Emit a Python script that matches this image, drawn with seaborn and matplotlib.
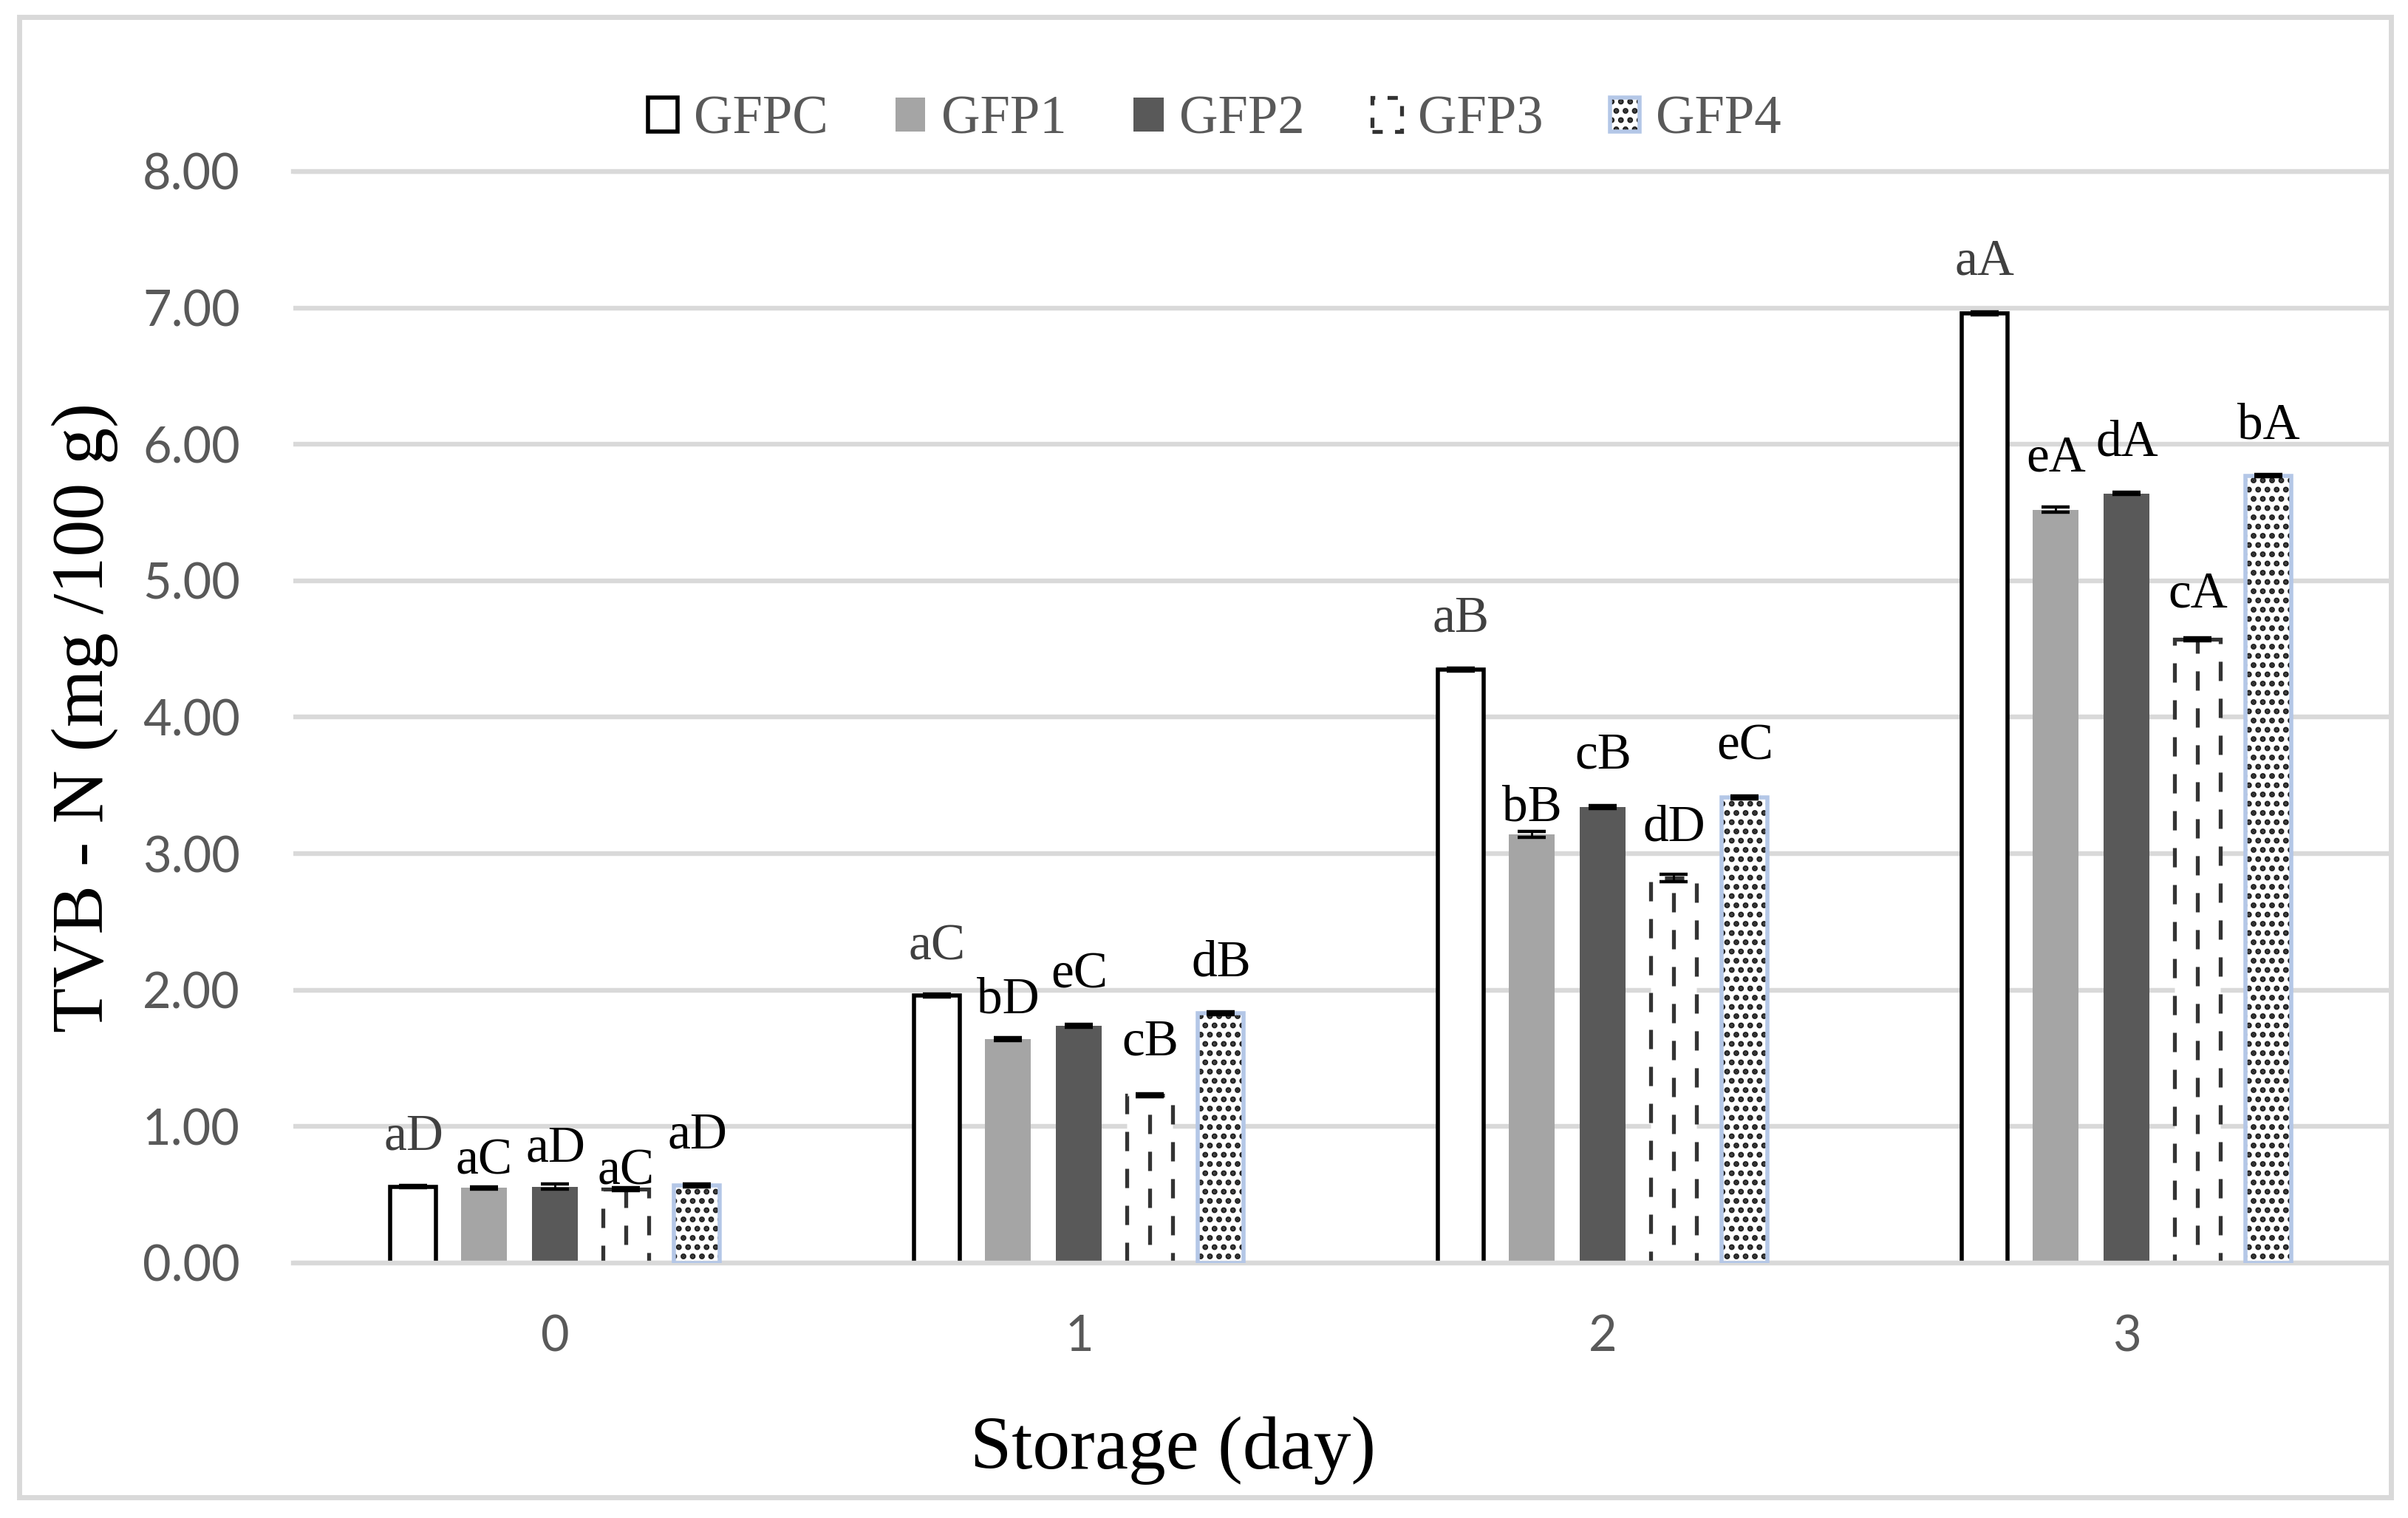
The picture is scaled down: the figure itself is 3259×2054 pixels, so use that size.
import numpy as np
import pandas as pd
import matplotlib.pyplot as plt
import matplotlib.patches as mpatches
import seaborn as sns

# values (TVB-N, mg/100 g)
days = ["0", "1", "2", "3"]
groups = ["GFPC", "GFP1", "GFP2", "GFP3", "GFP4"]

gfpc = [0.56, 1.96, 4.35, 6.96]
gfp1 = [0.55, 1.64, 3.14, 5.52]
gfp2 = [0.56, 1.74, 3.34, 5.64]
gfp3 = [0.54, 1.23, 2.82, 4.57]
gfp4 = [0.57, 1.83, 3.41, 5.77]

gfpc_err = [0.01, 0.01, 0.01, 0.01]
gfp1_err = [0.01, 0.01, 0.023, 0.02]
gfp2_err = [0.02, 0.01, 0.01, 0.01]
gfp3_err = [0.01, 0.01, 0.027, 0.01]
gfp4_err = [0.01, 0.01, 0.01, 0.01]

gfpc_lab = ["aD", "aC", "aB", "aA"]
gfp1_lab = ["aC", "bD", "bB", "eA"]
gfp2_lab = ["aD", "eC", "cB", "dA"]
gfp3_lab = ["aC", "cB", "dD", "cA"]
gfp4_lab = ["aD", "dB", "eC", "bA"]

yticks = [0, 1, 2, 3, 4, 5, 6, 7, 8]

values = [gfpc, gfp1, gfp2, gfp3, gfp4]
errors = [gfpc_err, gfp1_err, gfp2_err, gfp3_err, gfp4_err]
letters = [gfpc_lab, gfp1_lab, gfp2_lab, gfp3_lab, gfp4_lab]

# how far (pt at 200 dpi) each letter label sits above its bar
label_lift = [[18, 17.3, 18.3, 18.7],
              [6.8, 13, 6.8, 18.7],
              [12.2, 18.3, 19, 18.3],
              [2.5, 19.4, 18.3, 15.8],
              [18, 18.3, 18.7, 18]]

df = pd.DataFrame([
    {"Storage": d, "Group": g, "TVBN": v}
    for g, vals in zip(groups, values)
    for d, v in zip(days, vals)
])

# drawn at 150 dpi so the dot hatch gets the right pitch; sizes below are
# given as if at 200 dpi and scaled by K
DPI = 150
K = 200 / DPI

sns.set_style("white")
plt.rcParams["lines.scale_dashes"] = False
plt.rcParams["hatch.linewidth"] = 1.9 * K
SERIF = ["Liberation Serif", "DejaVu Serif"]
SANS = ["Lato", "DejaVu Sans"]
GRID = "#D9D9D9"
TXT = "#595959"

fig = plt.figure(figsize=(3259 / DPI, 2054 / DPI), dpi=DPI)
ax = fig.add_axes([0.1218, 0.1680, 0.8702, 0.7191])

sns.barplot(data=df, x="Storage", y="TVBN", hue="Group", order=days,
            hue_order=groups, errorbar=None, width=0.677, gap=0.355,
            palette=["white", "#A5A5A5", "#595959", "white", "white"],
            legend=False, ax=ax, zorder=2)

DASH = (0, (9.4 * K, 8.6 * K))
centers = []
for gi, cont in enumerate(ax.containers):
    bars = sorted(cont.patches, key=lambda p: p.get_x())
    xs = [b.get_x() + b.get_width() / 2 for b in bars]
    centers.append(xs)
    for b in bars:
        if gi == 0:
            b.set_facecolor("white")
            b.set_edgecolor("black")
            b.set_linewidth(2.0 * K)
        elif gi in (1, 2):
            b.set_linewidth(0)
        elif gi == 3:
            b.set_facecolor("white")
            b.set_edgecolor("#333333")
            b.set_linewidth(1.9 * K)
            b.set_linestyle(DASH)
            cx = b.get_x() + b.get_width() / 2
            ax.plot([cx, cx], [0, b.get_height()], color="#333333", lw=1.9 * K,
                    linestyle=(9 * K, (9.4 * K, 8.6 * K)), zorder=2.5)
        else:
            b.set_facecolor("white")
            b.set_edgecolor("#222222")
            b.set_hatch("..")
            b.set_linewidth(0)
            ax.add_patch(mpatches.Rectangle((b.get_x(), 0), b.get_width(), b.get_height(),
                                            fill=False, edgecolor="#B4C7E7", lw=2.0 * K, zorder=2.6))

# error bars and letter labels
for gi in range(len(groups)):
    ax.errorbar(centers[gi], values[gi], yerr=errors[gi], fmt="none",
                ecolor="black", elinewidth=1.0 * K, capsize=6.8 * K,
                capthick=1.6 * K, zorder=3)
    for di in range(len(days)):
        ax.annotate(letters[gi][di], (centers[gi][di], values[gi][di]),
                    xytext=(0, label_lift[gi][di] * K), textcoords="offset points",
                    ha="center", va="baseline", fontsize=25 * K, family=SERIF,
                    color="#404040" if gi == 0 else "black", zorder=4)

ax.set_xlim(-0.5, 3.5)
ax.set_ylim(0, 8)
ax.set_yticks(yticks)
ax.set_yticklabels([f"{t:.2f}" for t in yticks])
ax.set_axisbelow(True)
ax.yaxis.grid(True, color=GRID, lw=2.3 * K)
ax.xaxis.grid(False)
for side in ["left", "right"]:
    ax.spines[side].set_visible(False)
for side in ["top", "bottom"]:
    ax.spines[side].set_color(GRID)
    ax.spines[side].set_linewidth(2.3 * K)
ax.tick_params(axis="y", length=0, pad=26 * K, labelsize=24 * K, labelcolor=TXT)
ax.tick_params(axis="x", length=0, pad=25 * K, labelsize=24 * K, labelcolor=TXT)
for lab in ax.get_xticklabels() + ax.get_yticklabels():
    lab.set_family(SANS)
ax.set_xlabel("")
ax.set_ylabel("")

fig.text(0.487, 0.0326, "Storage (day)", ha="center", va="baseline",
         fontsize=36.5 * K, family=SERIF, color="black")
fig.text(0.0353, 0.5275, "TVB - N (mg /100 g)", ha="center", va="center",
         rotation=90, fontsize=36 * K, family=SERIF, color="black")

# legend
handles = [
    mpatches.Patch(facecolor="white", edgecolor="black", lw=2.0 * K),
    mpatches.Patch(facecolor="#A5A5A5", lw=0),
    mpatches.Patch(facecolor="#595959", lw=0),
    mpatches.Patch(facecolor="white", edgecolor="#333333", lw=1.9 * K,
                   linestyle=(0, (5 * K, 6 * K))),
    (mpatches.Patch(facecolor="white", edgecolor="#222222", hatch="..", lw=0),
     mpatches.Patch(fill=False, edgecolor="#B4C7E7", lw=2.0 * K)),
]
leg = fig.legend(handles, groups, loc="center", bbox_to_anchor=(0.5045, 0.9206),
                 ncol=5, frameon=False, prop={"family": SERIF, "size": 26.2 * K},
                 handlelength=0.55, handleheight=0.6, handletextpad=0.3,
                 columnspacing=1.25, borderaxespad=0)
for t in leg.get_texts():
    t.set_color(TXT)

# chart-area border
fig.patches.append(mpatches.Rectangle((26 / 3259, 1 - 2026 / 2054), 3210 / 3259, 2003 / 2054,
                                      transform=fig.transFigure, fill=False,
                                      edgecolor=GRID, lw=2.5 * K, zorder=0))

fig.savefig("out.png", dpi=DPI)
